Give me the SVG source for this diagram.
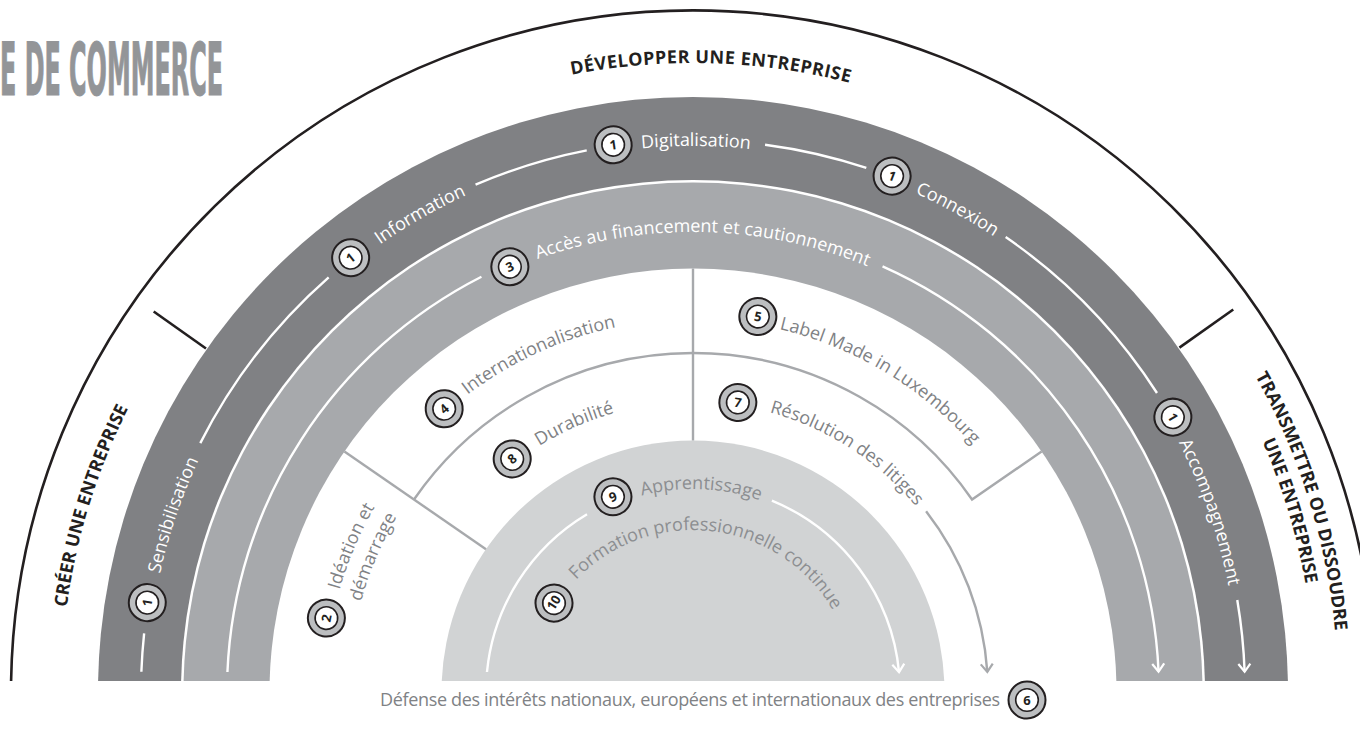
<svg xmlns="http://www.w3.org/2000/svg" width="1360" height="734" viewBox="0 0 1360 734">
<style>
.hd{font-family:'Open Sans','Noto Sans','DejaVu Sans',sans-serif;font-weight:700;font-size:18px;fill:#231f20}
.bl{font-family:'Open Sans','Noto Sans','DejaVu Sans',sans-serif;font-size:18px;fill:#ffffff}
.gl{font-family:'Open Sans','Noto Sans','DejaVu Sans',sans-serif;font-size:18px;fill:#808285}
.sl{font-family:'Open Sans','Noto Sans','DejaVu Sans',sans-serif;font-size:18px;fill:#8c8e91}
.num{font-family:'Open Sans','Noto Sans','DejaVu Sans',sans-serif;font-weight:700;font-size:13px;fill:#231f20;text-anchor:middle}
.wl{fill:none;stroke:#ffffff;stroke-width:2.4}
.gw{fill:none;stroke:#a7a9ac;stroke-width:2.4}
.bk{fill:none;stroke:#231f20;stroke-width:2.6}
.bo{fill:#bcbec0;stroke:#231f20;stroke-width:2}
.bi{fill:#ffffff;stroke:#231f20;stroke-width:1.6}
</style>
<defs>
<clipPath id="clip"><rect x="0" y="0" width="1360" height="681"/></clipPath>
<marker id="arrW" viewBox="-10 -8 13 16" refX="0" refY="0" markerWidth="13" markerHeight="16" markerUnits="userSpaceOnUse" orient="auto" overflow="visible"><path d="M-8,-6 L0,0 L-8,6" fill="none" stroke="#ffffff" stroke-width="2.2"/></marker>
<marker id="arrG" viewBox="-10 -8 13 16" refX="0" refY="0" markerWidth="13" markerHeight="16" markerUnits="userSpaceOnUse" orient="auto" overflow="visible"><path d="M-8,-6 L0,0 L-8,6" fill="none" stroke="#a7a9ac" stroke-width="2.2"/></marker>
<g id="badge"><circle r="18.5" class="bo"/><circle r="11.3" class="bi"/></g>
<path id="r632" d="M61,692 A632,632 0 0 1 1325,692"/>
<path id="r629" d="M64,692 A629,629 0 0 1 1322,692"/>
<path id="r645" d="M48,692 A645,645 0 0 1 1338,692"/>
<path id="r622" d="M71,692 A622,622 0 0 1 1315,692"/>
<path id="r546" d="M147,692 A546,546 0 0 1 1239,692"/>
<path id="r460" d="M233,692 A460,460 0 0 1 1153,692"/>
<path id="r373" d="M320,692 A373,373 0 0 1 1066,692"/>
<path id="r368" d="M325,692 A368,368 0 0 1 1061,692"/>
<path id="r344" d="M349,692 A344,344 0 0 1 1037,692"/>
<path id="r290" d="M403,692 A290,290 0 0 1 983,692"/>
<path id="r203" d="M490,692 A203,203 0 0 1 896,692"/>
<path id="r162" d="M531,692 A162,162 0 0 1 855,692"/>
</defs>

<g id="title"><text x="0" y="95" font-family="'Liberation Sans Narrow','DejaVu Sans Condensed','Liberation Sans',sans-serif" font-weight="700" font-size="73" fill="#939598" stroke="#939598" stroke-width="1.2" textLength="223" lengthAdjust="spacingAndGlyphs">E DE COMMERCE</text></g>

<g id="rings" clip-path="url(#clip)">
<circle cx="693" cy="692" r="595" fill="#808184"/>
<circle cx="693" cy="692" r="512" fill="#ffffff"/>
<circle cx="693" cy="692" r="509.5" fill="#a7a9ac"/>
<circle cx="693" cy="692" r="423.5" fill="#ffffff"/>
<circle cx="693" cy="692" r="251.5" fill="#d1d3d4"/>
</g>

<g id="connectors">
<path class="bk" d="M11.09,681 A682,682 0 0 1 1374.9,681"/>
<path class="bk" d="M153.68,311.55 L205.98,348.45"/>
<path class="bk" d="M1179.42,347.60 L1233.28,309.46"/>
<path class="wl" d="M141.37,671.77 A552,552 0 0 1 144.13,633.34"/>
<path class="wl" d="M200.29,443.12 A552,552 0 0 1 328.68,277.30"/>
<path class="wl" d="M475.54,184.64 A552,552 0 0 1 586.73,150.33"/>
<path class="wl" d="M765.05,144.72 A552,552 0 0 1 866.32,167.92"/>
<path class="wl" d="M1005.66,237.08 A552,552 0 0 1 1156.99,392.98"/>
<path class="wl" d="M1237.27,599.94 A552,552 0 0 1 1244.63,671.77" marker-end="url(#arrW)"/>
<path class="wl" d="M227.43,672.00 A466,466 0 0 1 481.44,276.79"/>
<path class="wl" d="M882.54,266.29 A466,466 0 0 1 1158.56,671.67" marker-end="url(#arrW)"/>
<path class="wl" d="M486.97,672.0 A207,207 0 0 1 587.01,514.19"/>
<path class="wl" d="M771.88,500.62 A207,207 0 0 1 899.05,672.16" marker-end="url(#arrW)"/>
<path class="gw" d="M485.98,549.19 L344.40,451.52"/>
<path class="gw" d="M693,440.5 L693,268.5"/>
<path class="gw" d="M413.96,499.50 A339,339 0 0 1 972.04,499.50 L1041.60,451.52"/>
<path class="gw" d="M926.10,511.19 A295,295 0 0 1 987.32,671.94" marker-end="url(#arrG)"/>
</g>

<g id="h-creer"><text class="hd" text-anchor="middle"><textPath href="#r632" startOffset="189.7">CRÉER UNE ENTREPRISE</textPath></text></g>
<g id="h-developper"><text class="hd" text-anchor="middle" letter-spacing="0.5"><textPath href="#r629" startOffset="1006.1">DÉVELOPPER UNE ENTREPRISE</textPath></text></g>
<g id="h-transmettre">
<text class="hd" text-anchor="middle"><textPath href="#r645" startOffset="1830.4">TRANSMETTRE OU DISSOUDRE</textPath></text>
<text class="hd" text-anchor="middle"><textPath href="#r622" startOffset="1770.6">UNE ENTREPRISE</textPath></text>
</g>

<g id="n-sensibilisation"><g transform="translate(147.27,602.63) rotate(-80.7)"><use href="#badge"/><text class="num" y="4.6">1</text></g><text class="bl" text-anchor="middle"><textPath href="#r546" startOffset="179.2">Sensibilisation</textPath></text></g>
<g id="n-information"><g transform="translate(350.64,257.72) rotate(-38.3)"><use href="#badge"/><text class="num" y="4.6">1</text></g><text class="bl" text-anchor="middle"><textPath href="#r546" startOffset="574.2">Information</textPath></text></g>
<g id="n-digitalisation"><g transform="translate(613.17,144.79) rotate(-8.3)"><use href="#badge"/><text class="num" y="4.6">1</text></g><text class="bl" text-anchor="middle"><textPath href="#r546" startOffset="860.5">Digitalisation</textPath></text></g>
<g id="n-connexion"><g transform="translate(892.08,176.08) rotate(21.1)"><use href="#badge"/><text class="num" y="4.6">1</text></g><text class="bl" text-anchor="middle"><textPath href="#r546" startOffset="1131.2">Connexion</textPath></text></g>
<g id="n-accompagnement"><g transform="translate(1172.87,417.17) rotate(60.2)"><use href="#badge"/><text class="num" y="4.6">1</text></g><text class="bl" text-anchor="middle"><textPath href="#r546" startOffset="1532.3">Accompagnement</textPath></text></g>
<g id="n-financement"><g transform="translate(509.86,266.76) rotate(-23.3)"><use href="#badge"/><text class="num" y="4.6">3</text></g><text class="bl" text-anchor="middle"><textPath href="#r460" startOffset="732.6">Accès au financement et cautionnement</textPath></text></g>
<g id="n-ideation"><g transform="translate(326.38,618.08) rotate(-78.6)"><use href="#badge"/><text class="num" y="4.6">2</text></g><text class="gl"><textPath href="#r368" startOffset="103.4">Idéation et</textPath></text><text class="gl"><textPath href="#r344" startOffset="91.3">démarrage</textPath></text></g>
<g id="n-internationalisation"><g transform="translate(444.18,408.77) rotate(-41.3)"><use href="#badge"/><text class="num" y="4.6">4</text></g><text class="gl" text-anchor="middle"><textPath href="#r373" startOffset="425.8">Internationalisation</textPath></text></g>
<g id="n-durabilite"><g transform="translate(512.19,458.90) rotate(-37.8)"><use href="#badge"/><text class="num" y="4.6">8</text></g><text class="gl" text-anchor="middle"><textPath href="#r290" startOffset="334.6">Durabilité</textPath></text></g>
<g id="n-label"><g transform="translate(757.85,316.56) rotate(9.8)"><use href="#badge"/><text class="num" y="4.6">5</text></g><text class="gl" text-anchor="middle"><textPath href="#r373" startOffset="787.1">Label Made in Luxembourg</textPath></text></g>
<g id="n-litiges"><g transform="translate(737.83,402.45) rotate(8.8)"><use href="#badge"/><text class="num" y="4.6">7</text></g><text class="gl" text-anchor="middle"><textPath href="#r290" startOffset="621.0">Résolution des litiges</textPath></text></g>
<g id="n-apprentissage"><g transform="translate(612.94,496.78) rotate(-22.3)"><use href="#badge"/><text class="num" y="4.6">9</text></g><text class="sl" text-anchor="middle"><textPath href="#r203" startOffset="327.0">Apprentissage</textPath></text></g>
<g id="n-formation"><g transform="translate(554.0,603.1) rotate(-57.4)"><use href="#badge"/><text class="num" y="4.2" font-size="11" letter-spacing="-0.5">10</text></g><text class="sl" text-anchor="middle"><textPath href="#r162" startOffset="273.4">Formation professionnelle continue</textPath></text></g>
<g id="n-defense"><text class="gl" x="380" y="706" font-size="17" textLength="620" lengthAdjust="spacing">Défense des intérêts nationaux, européens et internationaux des entreprises</text><g transform="translate(1027,700)"><use href="#badge"/><text class="num" y="4.6">6</text></g></g>
</svg>
